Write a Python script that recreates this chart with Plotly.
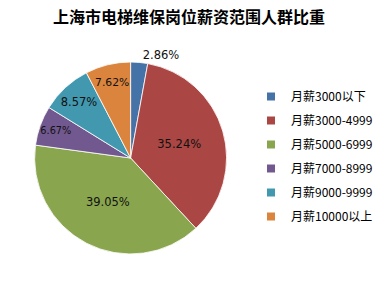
import plotly.graph_objects as go

title = "上海市电梯维保岗位薪资范围人群比重"
categories = ["月薪3000以下", "月薪3000-4999", "月薪5000-6999", "月薪7000-8999", "月薪9000-9999", "月薪10000以上"]
values = [2.86, 35.24, 39.05, 6.67, 8.57, 7.62]
colors = ["#4572A7", "#AA4643", "#89A54E", "#71588F", "#4198AF", "#DB843D"]
text_positions = ["outside", "inside", "inside", "inside", "inside", "inside"]
text_sizes = [11.5, 11.5, 11.5, 11, 11.5, 11.5]

W, H = 378, 282
font_cjk = "Noto Sans CJK SC, Liberation Sans, sans-serif"

fig = go.Figure()
fig.add_trace(go.Pie(
    labels=categories, values=values, sort=False, direction="clockwise", rotation=0,
    marker=dict(colors=colors, line=dict(color="white", width=0.8)),
    texttemplate="%{value:.2f}%", textposition=text_positions,
    insidetextorientation="horizontal",
    textfont=dict(size=text_sizes, color="#111111", family="DejaVu Sans, sans-serif"),
    domain=dict(x=[35 / W, 229 / W], y=[27 / H, 221 / H]),
    showlegend=False, hoverinfo="label+percent",
))
for c, col in zip(categories, colors):
    fig.add_trace(go.Scatter(
        x=[None], y=[None], mode="markers", name=c, legendgroup=c,
        marker=dict(symbol="square", size=8, color=col),
        showlegend=True,
    ))

fig.update_layout(
    width=W, height=H, margin=dict(l=0, r=0, t=0, b=0),
    paper_bgcolor="white", plot_bgcolor="white",
    title=dict(text="<b>" + title + "</b>", x=0.5, xanchor="center", y=1 - 17 / H, yanchor="middle",
               font=dict(size=16, color="#000000", family=font_cjk)),
    xaxis=dict(visible=False), yaxis=dict(visible=False),
    legend=dict(x=254 / W, y=1 - 82 / H, xanchor="left", yanchor="top",
                font=dict(size=12, color="#000000", family=font_cjk),
                tracegroupgap=5, itemwidth=30, bgcolor="rgba(0,0,0,0)"),
)
fig.write_html("out.html")
